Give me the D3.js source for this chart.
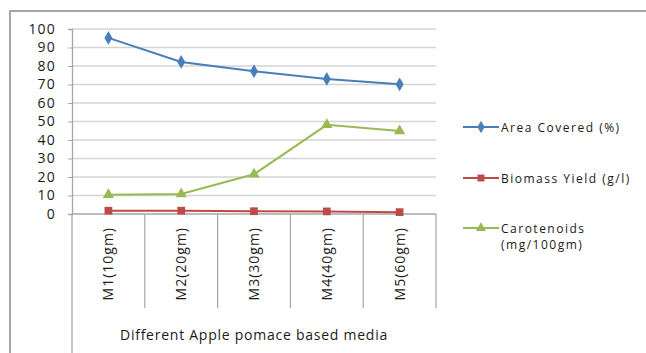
<!DOCTYPE html>
<html><head><meta charset="utf-8">
<script src="https://cdn.jsdelivr.net/npm/d3@7"></script>
<style>body{margin:0;background:#fff;} svg{display:block;font-family:"Open Sans",sans-serif;}</style>
</head><body>
<svg id="c" width="646" height="353"></svg>
<script>
const categories = ["M1(10gm)","M2(20gm)","M3(30gm)","M4(40gm)","M5(60gm)"];
const areaCovered = [95.2, 82.2, 77.2, 73, 70.1];
const biomassYield = [1.8, 1.8, 1.5, 1.4, 1.0];
const carotenoids = [10.4, 10.8, 21.5, 48.2, 44.8];
const yTicks = [0,10,20,30,40,50,60,70,80,90,100];
const seriesNames = ["Area Covered (%)","Biomass Yield (g/l)","Carotenoids|(mg/100gm)"];
const xTitle = "Different Apple pomace based media";

const series = [
  {name: seriesNames[0], values: areaCovered, color: "#4a7ebb", shape: d3.symbolDiamond, size: 55},
  {name: seriesNames[1], values: biomassYield, color: "#be4b48", shape: d3.symbolSquare, size: 60},
  {name: seriesNames[2], values: carotenoids, color: "#98b954", shape: d3.symbolTriangle, size: 55}
];

const svg = d3.select("#c");
const L = 72, R = 436, T = 29, B = 214;
const x = d3.scaleBand().domain(categories).range([L, R]);
const y = d3.scaleLinear().domain([0, 100]).range([B, T]);
const txt = "#1a1a1a";

// outer frame
svg.append("path").attr("d", `M10,353 V11 H646`).attr("fill","none").attr("stroke","#a6a6a6").attr("stroke-width",2);

// gridlines
svg.append("g").selectAll("line").data(yTicks.filter(d=>d>0)).join("line")
  .attr("x1", L).attr("x2", R).attr("y1", d=>y(d)).attr("y2", d=>y(d))
  .attr("stroke","#d4d4d4").attr("stroke-width",1.6);

// y axis
const yAxis = svg.append("g").attr("transform", `translate(${L},0)`)
  .call(d3.axisLeft(y).tickValues(yTicks).tickSize(4).tickPadding(12).tickFormat(d3.format("d")));
yAxis.select(".domain").attr("stroke","#a6a6a6").attr("stroke-width",1.3);
yAxis.selectAll(".tick line").attr("stroke","#a6a6a6");
yAxis.selectAll("text").attr("font-size",14).attr("letter-spacing","1.2px").attr("fill",txt).attr("font-family","'Open Sans',sans-serif");

// extend y axis line downward to bottom
svg.append("line").attr("x1",L).attr("x2",L).attr("y1",B).attr("y2",353).attr("stroke","#a6a6a6").attr("stroke-width",1.3);

// x axis baseline
svg.append("line").attr("x1",L).attr("x2",R).attr("y1",B).attr("y2",B).attr("stroke","#a6a6a6").attr("stroke-width",1.3);
// category dividers
const edges = categories.map(c => x(c) + x.bandwidth());
svg.append("g").selectAll("line").data(edges).join("line")
  .attr("x1", d=>d).attr("x2", d=>d).attr("y1", B).attr("y2", 308)
  .attr("stroke","#a6a6a6").attr("stroke-width",1.2);

// category labels
svg.append("g").selectAll("text").data(categories).join("text")
  .attr("transform", d => `translate(${x(d)+x.bandwidth()/2+5},227) rotate(-90)`)
  .attr("text-anchor","end").attr("font-size",14).attr("letter-spacing","1px").attr("fill",txt).text(d=>d);

// x title
svg.append("text").attr("x", (L+R)/2).attr("y", 340).attr("text-anchor","middle")
  .attr("font-size",14).attr("letter-spacing","0.75px").attr("fill",txt).text(xTitle);

// lines + markers
const line = d3.line().x((d,i)=>x(categories[i])+x.bandwidth()/2).y(d=>y(d));
series.forEach(s => {
  svg.append("path").datum(s.values).attr("d", line).attr("fill","none")
    .attr("stroke", s.color).attr("stroke-width", 2);
  svg.append("g").selectAll("path").data(s.values).join("path")
    .attr("transform",(d,i)=>`translate(${x(categories[i])+x.bandwidth()/2},${y(d)})`)
    .attr("d", d3.symbol().type(s.shape).size(s.size)).attr("fill", s.color);
});

// legend
const legY = [127, 178, 228];
series.forEach((s, i) => {
  const g = svg.append("g").attr("transform", `translate(0,${legY[i]})`);
  g.append("line").attr("x1",463).attr("x2",499).attr("y1",0).attr("y2",0).attr("stroke",s.color).attr("stroke-width",2);
  g.append("path").attr("transform","translate(481,0)").attr("d", d3.symbol().type(s.shape).size(s.size*0.8)).attr("fill",s.color);
  const parts = s.name.split("|");
  const t = g.append("text").attr("font-size",12).attr("letter-spacing","1.5px").attr("fill",txt);
  parts.forEach((p, j) => {
    t.append("tspan").attr("x",501).attr("y", 4.5 + j*16.5).text(p);
  });
});
</script>
</body></html>
